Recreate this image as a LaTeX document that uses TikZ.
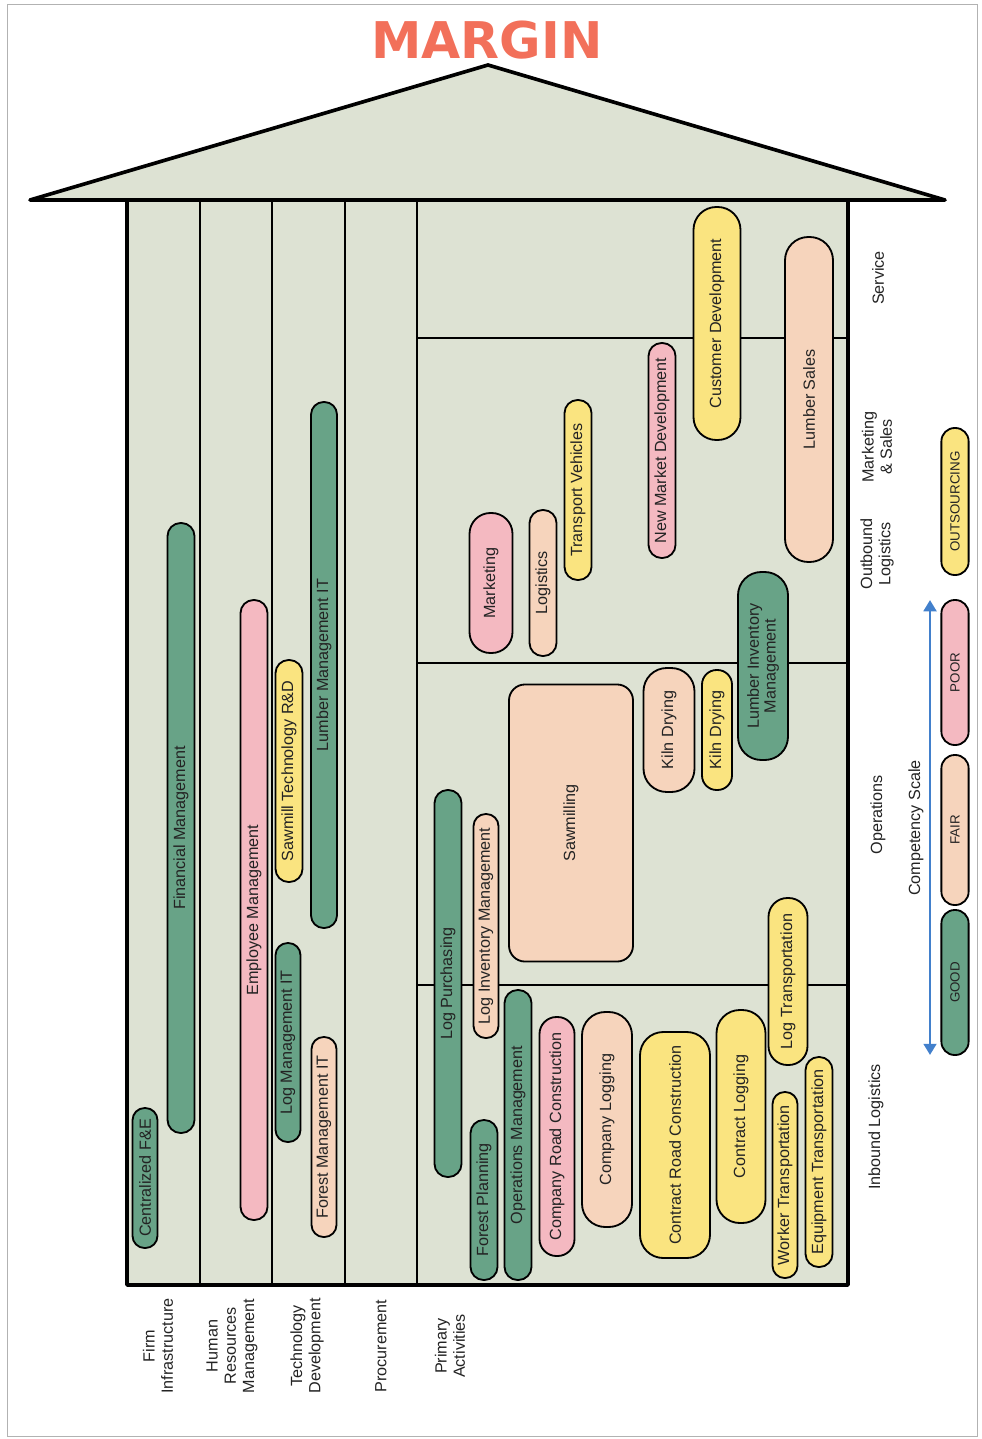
\documentclass[tikz,border=0pt]{standalone}
\usepackage{fontspec}
\setmainfont{Liberation Sans}
\newfontfamily\titlefont{DejaVu Sans}
\usepackage{tikz}
\usetikzlibrary{arrows.meta,positioning}
\definecolor{houseBg}{RGB}{221,226,211}
\definecolor{cGood}{RGB}{104,163,135}
\definecolor{cFair}{RGB}{246,212,188}
\definecolor{cPoor}{RGB}{244,185,193}
\definecolor{cOuts}{RGB}{250,228,128}
\definecolor{cTitle}{RGB}{242,112,90}
\definecolor{cScale}{RGB}{66,128,204}
\definecolor{cText}{RGB}{35,35,35}
\tikzset{
  pill/.style={draw=black, line width=1.3pt, rotate=90, inner sep=0pt, align=center,
    text=cText, font=\fontsize{11.5}{12}\selectfont},
  legendpill/.style={pill, font=\fontsize{9.5}{11}\selectfont},
  frame/.style={line width=2.6pt, line join=round},
  divider/.style={line width=1.6pt},
  rowline/.style={line width=1pt},
  rowlabel/.style={rotate=90, align=center, text=cText, font=\fontsize{11.5}{13}\selectfont},
}
\begin{document}
\begin{tikzpicture}[x=0.025cm, y=-0.025cm]
%1 Einheit = 1 Pixel der Vorlage, y nach unten
  \pgfmathsetmacro{\px}{0.025}
  \useasboundingbox (0,0) rectangle (981,1439);
  \draw[gray!60, line width=0.5pt] (7,4) rectangle (977,1436);
%Haus: Dach und Wand
  \fill[houseBg] (30,200) -- (488,65) -- (945,200) -- cycle;
  \fill[houseBg] (127,200) rectangle (848,1285);
  \foreach \xx in {200,272,345,417}{
    \draw[divider] (\xx,200) -- (\xx,1285);
  }
  \foreach \yy in {338,663,985}{
    \draw[rowline] (417,\yy) -- (848,\yy);
  }
  \draw[frame] (30,200) -- (488,65) -- (945,200) -- cycle;
  \draw[frame] (127,200) -- (127,1285) -- (848,1285) -- (848,200);
  \node[font=\titlefont\bfseries\fontsize{36}{40}\selectfont, text=cTitle] (margin) at (487,40) {MARGIN};
%Aktivitaeten: name/farbe/x/oben/unten/breite/text
  \foreach \nm/\col/\cx/\ya/\yb/\thk/\txt in {
    cfe/cGood/145/1108/1248/25/Centralized F\&E,
    finmgmt/cGood/181/523/1133/27/Financial Management,
    empmgmt/cPoor/254/600/1220/27/Employee Management,
    sawrd/cOuts/289/660/882/27/Sawmill Technology R\&D,
    logit/cGood/288/943/1142/25/Log Management IT,
    lumit/cGood/324/402/928/26/Lumber Management IT,
    forit/cFair/324/1037/1237/25/Forest Management IT,
    mkt/cPoor/491/513/653/43/Marketing,
    logi/cFair/543/510/656/27/Logistics,
    trveh/cOuts/578/400/580/27/Transport Vehicles,
    newmkt/cPoor/662/343/558/27/New Market Development,
    custdev/cOuts/717/207/440/47/Customer Development,
    lumsales/cFair/809/237/562/48/Lumber Sales,
    luminv/cGood/763/572/760/50/Lumber Inventory\\Management,
    kilnA/cFair/669/668/792/51/Kiln Drying,
    kilnB/cOuts/717/670/790/30/Kiln Drying,
    logpur/cGood/448/790/1177/27/Log Purchasing,
    loginv/cFair/486/814/1038/25/Log Inventory Management,
    opsmgmt/cGood/518/990/1280/27/Operations Management,
    forpl/cGood/484/1120/1280/27/Forest Planning,
    crc/cPoor/557/1017/1256/35/Company Road Construction,
    clog/cFair/607/1012/1227/50/Company Logging,
    ctrrc/cOuts/675/1032/1258/70/Contract Road Construction,
    ctrlog/cOuts/741/1010/1223/49/Contract Logging,
    logtr/cOuts/788/898/1065/39/Log Transportation,
    wkrtr/cOuts/785/1092/1278/25/Worker Transportation,
    eqtr/cOuts/819/1057/1267/27/Equipment Transportation%
  }{
    \pgfmathsetmacro{\pL}{(\yb-\ya)*\px}
    \pgfmathsetmacro{\pT}{\thk*\px}
    \pgfmathsetmacro{\pR}{min(\thk/2,24)*0.97*\px}
    \node[pill, fill=\col, minimum width=\pL cm, minimum height=\pT cm, rounded corners=\pR cm]
      (\nm) at (\cx,{(\ya+\yb)/2}) {\txt};
  }
  \node[pill, fill=cFair, minimum width=6.925cm, minimum height=3.1cm, rounded corners=0.4cm]
    (sawmill) at (571,823) {Sawmilling};
%Zeilen und Spalten beschriften
  \node[rowlabel] (service) at (878,278) {Service};
  \node[rowlabel] (marksales) at (877,447) {Marketing\\\& Sales};
  \node[rowlabel] (outbound) at (877,554) {Outbound\\Logistics};
  \node[rowlabel] (operations) at (878,815) {Operations};
  \node[rowlabel] (inbound) at (876,1127) {Inbound Logistics};
  \node[rowlabel] (firminf) at (158,1346) {Firm\\Infrastructure};
  \node[rowlabel] (hrm) at (232,1346) {Human\\Resources\\Management};
  \node[rowlabel] (techdev) at (307,1346) {Technology\\Development};
  \node[rowlabel] (procure) at (381,1346) {Procurement};
  \node[rowlabel] (primact) at (450,1346) {Primary\\Activities};
%Legende
  \foreach \nm/\col/\ya/\yb/\txt in {good/cGood/910/1055/GOOD, fair/cFair/755/905/FAIR,
    poor/cPoor/600/745/POOR, outs/cOuts/428/575/OUTSOURCING}{
    \pgfmathsetmacro{\pL}{(\yb-\ya)*\px}
    \node[legendpill, fill=\col, minimum width=\pL cm, minimum height=0.68cm, rounded corners=0.33cm]
      (\nm) at (955,{(\ya+\yb)/2}) {\txt};
  }
  \coordinate (scaletop) at (930,600);
  \coordinate (scalebot) at (930,1055);
  \draw[cScale, line width=2pt, {Triangle[width=9pt,length=8pt]}-{Triangle[width=9pt,length=8pt]}] (scalebot) -- (scaletop);
  \node[rowlabel] (complabel) at (916,828) {Competency Scale};
\end{tikzpicture}
\end{document}
